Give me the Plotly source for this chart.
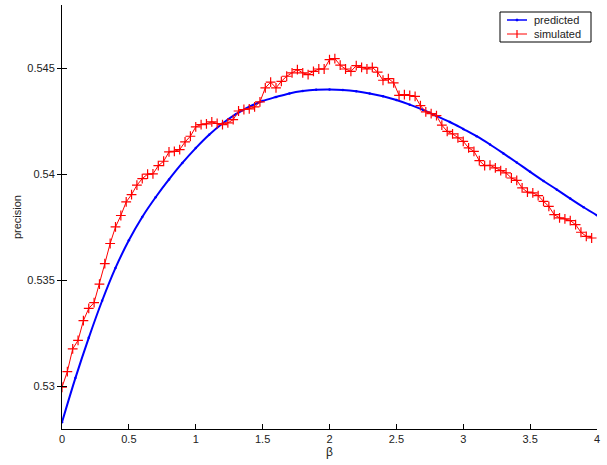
import numpy as np
import plotly.graph_objects as go

# simulated: beta step 0.04
beta_sim = [round(0.04 * i, 2) for i in range(100)]
prec_sim = [
    0.52997, 0.53071, 0.53178, 0.53218, 0.53311, 0.53369, 0.53396, 0.53483, 0.53580, 0.53675,
    0.53753, 0.53807, 0.53871, 0.53906, 0.53950, 0.53981, 0.54002, 0.54003, 0.54042, 0.54063,
    0.54107, 0.54110, 0.54118, 0.54154, 0.54181, 0.54225, 0.54236, 0.54239, 0.54249, 0.54241,
    0.54236, 0.54244, 0.54259, 0.54300, 0.54307, 0.54310, 0.54319, 0.54343, 0.54409, 0.54436,
    0.54409, 0.54440, 0.54464, 0.54480, 0.54495, 0.54480, 0.54472, 0.54487, 0.54498, 0.54498,
    0.54542, 0.54547, 0.54516, 0.54498, 0.54487, 0.54514, 0.54506, 0.54498, 0.54506, 0.54483,
    0.54445, 0.54453, 0.54433, 0.54374, 0.54377, 0.54373, 0.54369, 0.54325, 0.54296, 0.54288,
    0.54278, 0.54233, 0.54204, 0.54192, 0.54173, 0.54157, 0.54126, 0.54110, 0.54066, 0.54042,
    0.54044, 0.54032, 0.54019, 0.54008, 0.53984, 0.53973, 0.53937, 0.53917, 0.53914, 0.53901,
    0.53874, 0.53850, 0.53811, 0.53796, 0.53791, 0.53783, 0.53764, 0.53728, 0.53709, 0.53701,
]

# predicted: beta step 0.1
beta_pred = [round(0.1 * i, 1) for i in range(41)]
prec_pred = [
    0.52832, 0.53040, 0.53230, 0.53405, 0.53560, 0.53690, 0.53800, 0.53893, 0.53977, 0.54055,
    0.54125, 0.54188, 0.54241, 0.54285, 0.54320, 0.54347, 0.54366, 0.54383, 0.54394, 0.54400,
    0.54401, 0.54399, 0.54393, 0.54383, 0.54370, 0.54352, 0.54330, 0.54305, 0.54277, 0.54248,
    0.54215, 0.54181, 0.54142, 0.54100, 0.54057, 0.54013, 0.53970, 0.53929, 0.53887, 0.53846,
    0.53808,
]

series_names = ["predicted", "simulated"]
x_ticks = [0, 0.5, 1, 1.5, 2, 2.5, 3, 3.5, 4]
x_tick_labels = ["0", "0.5", "1", "1.5", "2", "2.5", "3", "3.5", "4"]
y_ticks = [0.53, 0.535, 0.54, 0.545]
y_tick_labels = ["0.53", "0.535", "0.54", "0.545"]

FONT = "Liberation Sans, Arial, sans-serif"
BLUE = "#0000ff"
RED = "#ff0000"

fig = go.Figure()
fig.add_trace(go.Scatter(
    x=beta_pred, y=prec_pred, name=series_names[0], mode="lines+markers",
    line=dict(color=BLUE, width=2, shape="spline", smoothing=1.0),
    marker=dict(color=BLUE, size=2.5, symbol="circle"),
    showlegend=False,
))
fig.add_trace(go.Scatter(
    x=beta_sim, y=prec_sim, name=series_names[1], mode="lines+markers",
    line=dict(color=RED, width=1),
    marker=dict(color=RED, size=7, symbol="cross-thin",
                line=dict(color=RED, width=1.2)),
    showlegend=False,
))

fig.update_layout(
    width=607, height=465,
    margin=dict(l=62, r=10, t=5, b=36),
    paper_bgcolor="white", plot_bgcolor="white",
    font=dict(family=FONT, size=11, color="#222"),
    showlegend=False,
    xaxis=dict(range=[0, 4], tickvals=x_ticks, ticktext=x_tick_labels,
               showgrid=False, zeroline=False, showline=True, linecolor="black",
               linewidth=1, ticks="inside", ticklen=5, tickcolor="black",
               mirror=False),
    yaxis=dict(range=[0.528, 0.548], tickvals=y_ticks, ticktext=y_tick_labels,
               showgrid=False, zeroline=False, showline=True, linecolor="black",
               linewidth=1, ticks="outside", ticklen=4, tickcolor="black",
               mirror=False),
    yaxis2=dict(overlaying="y", matches="y", range=[0.528, 0.548], tickvals=y_ticks,
                showticklabels=False, ticks="inside", ticklen=5, tickcolor="black",
                showgrid=False, zeroline=False, showline=False, side="left"),
)
fig.add_trace(go.Scatter(x=[None], y=[None], yaxis="y2", showlegend=False, hoverinfo="skip"))

# --- custom legend box (paper coordinates) ---
W_PLOT, H_PLOT, L, T = 535.0, 424.0, 62.0, 5.0
def px(x):
    return (x - L) / W_PLOT
def py(y):
    return 1 - (y - T) / H_PLOT

fig.add_shape(type="rect", xref="paper", yref="paper",
              x0=px(500), x1=px(591), y0=py(42), y1=py(12),
              line=dict(color="black", width=1), fillcolor="white", layer="above")
rows = [(20, BLUE, 1.5), (34, RED, 1)]
for (yy, col, lw), name in zip(rows, series_names):
    fig.add_shape(type="line", xref="paper", yref="paper",
                  x0=px(507), x1=px(527), y0=py(yy), y1=py(yy),
                  line=dict(color=col, width=lw), layer="above")
    fig.add_annotation(text=name, xref="paper", yref="paper", x=px(532), y=py(yy),
                       xanchor="left", yanchor="middle", showarrow=False,
                       font=dict(family=FONT, size=11, color="#222"))
# marker glyphs in legend
fig.add_shape(type="circle", xref="paper", yref="paper",
              x0=px(516), x1=px(518), y0=py(21), y1=py(19),
              line=dict(color=BLUE, width=1), fillcolor=BLUE, layer="above")
fig.add_shape(type="line", xref="paper", yref="paper",
              x0=px(517), x1=px(517), y0=py(38), y1=py(30),
              line=dict(color=RED, width=1.2), layer="above")

fig.add_annotation(text="precision", xref="paper", yref="paper", x=-0.084, y=0.5,
                   textangle=-90, showarrow=False, xanchor="center", yanchor="middle",
                   font=dict(family=FONT, size=11, color="#222"))
fig.add_annotation(text="β", xref="paper", yref="paper", x=0.5, y=-0.055,
                   showarrow=False, xanchor="center", yanchor="middle",
                   font=dict(family=FONT, size=12, color="#222"))

fig.write_html("out.html", config={"displayModeBar": False},
               post_script="document.body.style.margin='0';document.body.style.padding='0';")
